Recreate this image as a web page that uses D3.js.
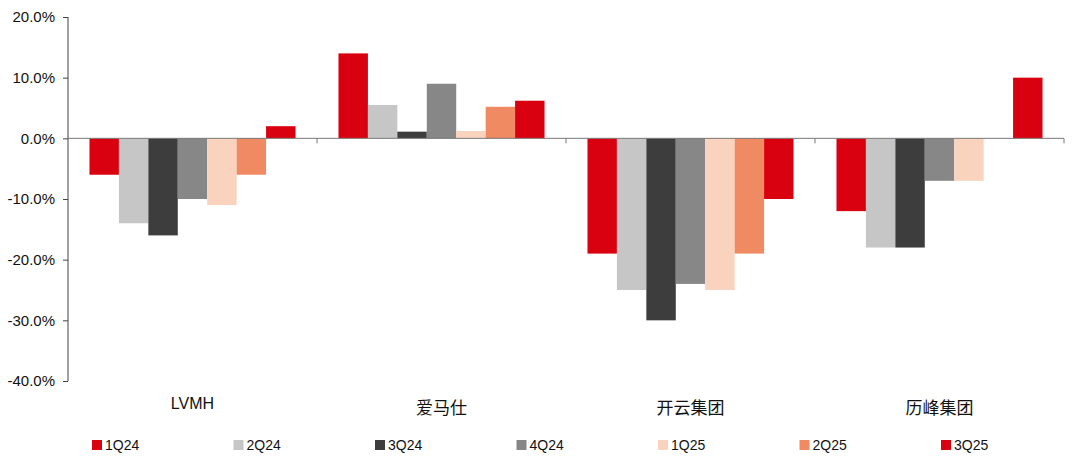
<!DOCTYPE html>
<html><head><meta charset="utf-8">
<script src="https://cdn.jsdelivr.net/npm/d3@7"></script>
<style>body{margin:0;background:#fff}svg{display:block}text{font-family:"Liberation Sans",Arial,"Noto Sans CJK SC",sans-serif;fill:#111}</style>
</head><body><svg id="c" width="1080" height="468"></svg>
<script>
const categories = ["LVMH","爱马仕","开云集团","历峰集团"];
const seriesNames = ["1Q24","2Q24","3Q24","4Q24","1Q25","2Q25","3Q25"];
const s1Q24 = [-6, 14, -19, -12];
const s2Q24 = [-14, 5.5, -25, -18];
const s3Q24 = [-16, 1.1, -30, -18];
const s4Q24 = [-10, 9, -24, -7];
const s1Q25 = [-11, 1.2, -25, -7];
const s2Q25 = [-6, 5.2, -19, 0];
const s3Q25 = [2, 6.2, -10, 10];
const colors = ["#d9000f","#c6c6c6","#3d3d3d","#878787","#f9d3be","#ef8a62","#d9000f"];
const yTicks = [20,10,0,-10,-20,-30,-40];
const seriesVals = [s1Q24,s2Q24,s3Q24,s4Q24,s1Q25,s2Q25,s3Q25];

const svg = d3.select("#c");
const x0 = d3.scaleBand().domain(categories).range([68,1064]).paddingInner(0).paddingOuter(0);
const x1 = d3.scaleBand().domain(seriesNames).range([0,x0.bandwidth()]).paddingInner(0).paddingOuter(0.73);
const y = d3.scaleLinear().domain([-40,20]).range([381,17]);

// bars
seriesNames.forEach((s,i)=>{
  svg.append("g").selectAll("rect").data(categories.map((c,j)=>({c,v:seriesVals[i][j]})))
    .join("rect")
    .attr("x",d=>x0(d.c)+x1(s))
    .attr("width",x1.bandwidth())
    .attr("y",d=>y(Math.max(0,d.v)))
    .attr("height",d=>Math.abs(y(d.v)-y(0)))
    .attr("fill",colors[i]);
});

// y axis
const ya = d3.axisLeft(y).tickValues(yTicks).tickSize(5).tickPadding(8).tickFormat(d=>d.toFixed(1)+"%");
const yg = svg.append("g").attr("transform","translate(68,0)").call(ya);
yg.select(".domain").attr("stroke","#444").attr("d","M0,17V381");
yg.selectAll(".tick line").attr("stroke","#444");
yg.selectAll(".tick text").style("font-size","15px").attr("fill","#111");

// x axis at zero
const xa = svg.append("g").attr("transform",`translate(0,${y(0)})`);
xa.append("line").attr("x1",68).attr("x2",1064).attr("stroke","#777");
const bounds = categories.map(c=>x0(c)+x0.bandwidth());
xa.selectAll("line.t").data(bounds).join("line").attr("class","t")
  .attr("x1",d=>d).attr("x2",d=>d).attr("y1",0).attr("y2",5).attr("stroke","#777");

// category labels
const isLatin = c => /^[A-Za-z]+$/.test(c);
svg.append("g").selectAll("text").data(categories).join("text")
  .attr("x",c=>x0(c)+x0.bandwidth()/2).attr("y",c=>isLatin(c)?409:414)
  .attr("text-anchor","middle").style("font-size",c=>isLatin(c)?"16px":"17px").text(c=>c);

// legend
const lg = svg.append("g").selectAll("g").data(seriesNames).join("g")
  .attr("transform",(d,i)=>`translate(${92+i*141.5},440)`);
lg.append("rect").attr("width",10).attr("height",10).attr("fill",(d,i)=>colors[i]);
lg.append("text").attr("x",13).attr("y",10).style("font-size","14px").text(d=>d);
</script></body></html>
